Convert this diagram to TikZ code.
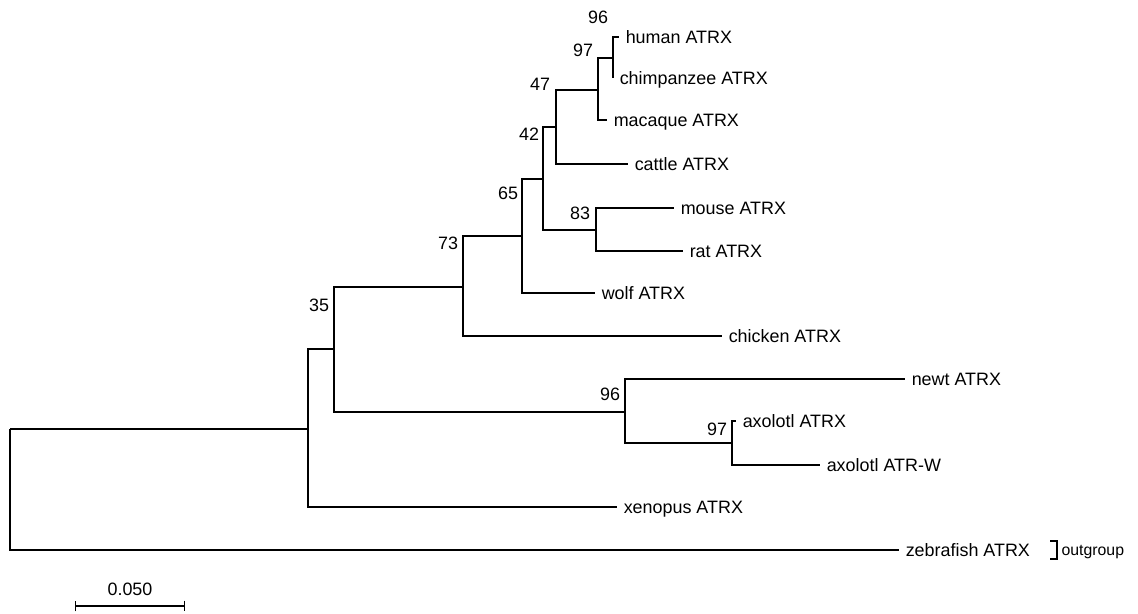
\documentclass[tikz,border=0pt]{standalone}
\usepackage{fontspec}
\setmainfont{Liberation Sans}
\usetikzlibrary{arrows.meta}

\begin{document}
\begin{tikzpicture}[x=0.02cm,y=-0.02cm,line width=0.7pt,
  leaf/.style={anchor=west,inner xsep=3.5pt,inner ysep=0pt,text height=0.716em,text depth=0pt,font=\fontsize{10.2}{12}\selectfont},
  boot/.style={inner sep=0pt,font=\fontsize{10.2}{12}\selectfont}]
\useasboundingbox (0,0) rectangle (1138,613);
% inner nodes of the tree
\coordinate (root) at (10,429);
\coordinate (tetra) at (308,429);
\coordinate (a35) at (334,349);
\coordinate (a73) at (463,287);
\coordinate (a65) at (522,236);
\coordinate (a42) at (543,179);
\coordinate (a47) at (556,127);
\coordinate (a97) at (598,90);
\coordinate (a96) at (613,58);
\coordinate (a83) at (596,230);
\coordinate (b96) at (625,412);
\coordinate (b97) at (732,443);
% leaves
\node[leaf] (human) at (619,37) {human ATRX};
\node[leaf] (chimp) at (613,78) {chimpanzee ATRX};
\node[leaf] (macaque) at (607,120) {macaque ATRX};
\node[leaf] (cattle) at (628,164) {cattle ATRX};
\node[leaf] (mouse) at (674,208) {mouse ATRX};
\node[leaf] (rat) at (683,251) {rat ATRX};
\node[leaf] (wolf) at (595,293) {wolf ATRX};
\node[leaf] (chicken) at (722,336) {chicken ATRX};
\node[leaf] (newt) at (905,379) {newt ATRX};
\node[leaf] (axolotl) at (736,421) {axolotl ATRX};
\node[leaf] (atrw) at (820,465) {axolotl ATR-W};
\node[leaf] (xenopus) at (617,507) {xenopus ATRX};
\node[leaf] (zebrafish) at (899,550) {zebrafish ATRX};
% branches
\draw (root) |- (tetra); \draw (root) |- (zebrafish);
\draw (tetra) |- (a35); \draw (tetra) |- (xenopus);
\draw (a35) |- (a73); \draw (a35) |- (b96);
\draw (a73) |- (a65); \draw (a73) |- (chicken);
\draw (a65) |- (a42); \draw (a65) |- (wolf);
\draw (a42) |- (a47); \draw (a42) |- (a83);
\draw (a47) |- (a97); \draw (a47) |- (cattle);
\draw (a97) |- (a96); \draw (a97) |- (macaque);
\draw (a96) |- (human); \draw (a96) |- (chimp);
\draw (a83) |- (mouse); \draw (a83) |- (rat);
\draw (b96) |- (newt); \draw (b96) |- (b97);
\draw (b97) |- (axolotl); \draw (b97) |- (atrw);
% bootstrap values
\node[boot] (s96) at (598,17) {96};
\node[boot] (s97) at (583,50) {97};
\node[boot] (s47) at (540,84) {47};
\node[boot] (s42) at (529,134) {42};
\node[boot] (s65) at (508,193) {65};
\node[boot] (s83) at (580,213) {83};
\node[boot] (s73) at (448,243) {73};
\node[boot] (s35) at (319,305) {35};
\node[boot] (t96) at (610,394) {96};
\node[boot] (t97) at (717,429) {97};
% outgroup bracket
\coordinate (og1) at (1050,541);
\coordinate (og2) at (1050,559);
\draw (og1) -- ++(7,0) |- (og2);
\node[anchor=base west,inner sep=0pt,font=\fontsize{9}{11}\selectfont] (outgroup) at (1061,555) {outgroup};
% scale bar
\coordinate (sb1) at (75,606);
\coordinate (sb2) at (185,606);
\draw[{Bar[width=6pt]}-{Bar[width=6pt]}] (sb1) -- (sb2);
\node[boot] (scale) at (130,589) {0.050};
\end{tikzpicture}
\end{document}
